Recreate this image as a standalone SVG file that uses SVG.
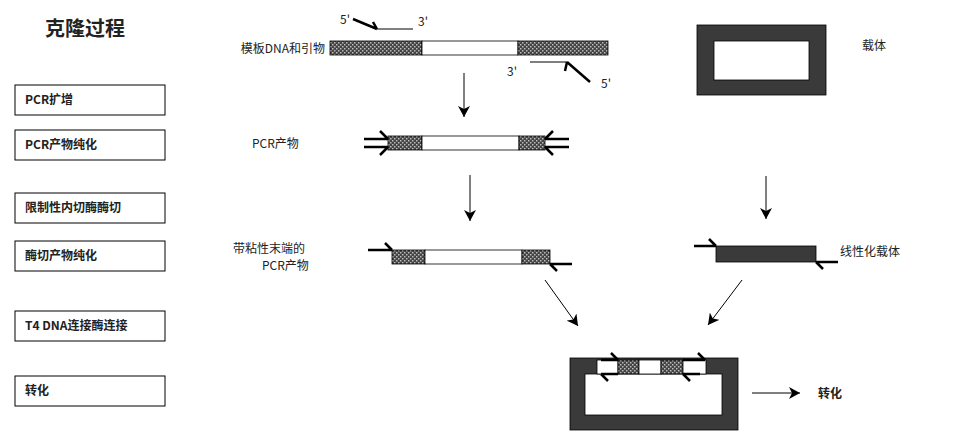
<svg xmlns="http://www.w3.org/2000/svg" width="954" height="447" viewBox="0 0 954 447">
<style>
text{font-family:"Noto Sans CJK SC","Liberation Sans",sans-serif;font-size:12px;fill:#222}
.b{font-weight:bold}
.box{fill:#fff;stroke:#000;stroke-width:1}
.h{fill:url(#hat);stroke:#000;stroke-width:0.8}
.w{fill:#fff;stroke:#000;stroke-width:0.8}
.d{fill:#3a3a3a;stroke:#000;stroke-width:0.8}
.t{stroke:#000;stroke-width:2.5;fill:none}
.n{stroke:#000;stroke-width:1;fill:none}
</style>
<defs>
<pattern id="hat" width="4" height="4" patternUnits="userSpaceOnUse">
<rect width="4" height="4" fill="#444"/><rect x="0" y="0" width="1.5" height="1.5" fill="#bbb"/><rect x="2" y="2" width="1.5" height="1.5" fill="#bbb"/>
</pattern>
<marker id="ar" viewBox="0 0 12 12" refX="11" refY="6" markerWidth="12" markerHeight="12" markerUnits="userSpaceOnUse" orient="auto"><path d="M0,0 L11,6 L0,12 L3,6 Z" fill="#000"/></marker>
</defs>
<text x="45" y="36" class="b" style="font-size:20px">克隆过程</text>
<g id="steps">
<rect class="box" x="15" y="85" width="150" height="30"/><text x="25" y="104" class="b">PCR扩增</text>
<rect class="box" x="15" y="130" width="150" height="30"/><text x="25" y="149" class="b">PCR产物纯化</text>
<rect class="box" x="15" y="193" width="150" height="30"/><text x="25" y="212" class="b">限制性内切酶酶切</text>
<rect class="box" x="15" y="241" width="150" height="30"/><text x="25" y="260" class="b">酶切产物纯化</text>
<rect class="box" x="15" y="311" width="150" height="30"/><text x="25" y="330" class="b">T4 DNA连接酶连接</text>
<rect class="box" x="15" y="376" width="150" height="30"/><text x="25" y="395" class="b">转化</text>
</g>
<g id="template">
<text x="325" y="53" text-anchor="end">模板DNA和引物</text>
<rect class="h" x="330" y="41" width="92" height="14"/><rect class="w" x="422" y="41" width="96" height="14"/><rect class="h" x="518" y="41" width="90" height="14"/>
<text x="340" y="24">5'</text><text x="418" y="26">3'</text>
<path class="t" d="M353,19 L377,29 M377,29 L373,22"/><path class="n" d="M377,29 H413"/>
<path class="n" d="M530,62 H567"/><path class="t" d="M567,62 L590,82 M567,62 L565,71"/>
<text x="507" y="76">3'</text><text x="601" y="88">5'</text>
</g>
<g id="pcr">
<text x="252" y="148">PCR产物</text>
<rect class="h" x="388" y="136" width="34" height="14"/><rect class="w" x="422" y="136" width="97" height="14"/><rect class="h" x="519" y="136" width="26" height="14"/>
<path class="t" d="M364,139 H388 M388,139 L380,131 M364,147 H388 M388,147 L380,155 M569,139 H545 M545,139 L553,131 M569,147 H545 M545,147 L553,155"/>
</g>
<g id="sticky">
<text x="233" y="253">带粘性末端的</text><text x="262" y="270">PCR产物</text>
<rect class="h" x="392" y="250" width="33" height="14"/><rect class="w" x="425" y="250" width="97" height="14"/><rect class="h" x="522" y="250" width="28" height="14"/>
<path class="t" d="M368,250 H392 M392,250 L385,243 M572,264 H550 M550,264 L557,271"/>
</g>
<g id="vector">
<rect class="d" x="697" y="25" width="129" height="70"/><rect class="w" x="714" y="41" width="95" height="39"/>
<text x="862" y="50">载体</text>
</g>
<g id="linvector">
<rect class="d" x="716" y="246" width="100" height="16"/>
<path class="t" d="M694,246 H716 M716,246 L709,239 M838,262 H816 M816,262 L823,269"/>
<text x="840" y="256">线性化载体</text>
</g>
<g id="recomb">
<rect class="d" x="570" y="358" width="168" height="72"/><rect class="w" x="585" y="374" width="137" height="41"/>
<rect class="w" x="597" y="360" width="21" height="14"/><rect class="h" x="618" y="360" width="21" height="14"/><rect class="w" x="639" y="360" width="22" height="14"/><rect class="h" x="661" y="360" width="22" height="14"/><rect class="w" x="683" y="360" width="23" height="14"/>
<path class="t" d="M601,360 H618 M618,360 L611,353 M618,374 H601 M601,374 L608,381 M683,360 H705 M705,360 L698,353 M700,374 H683 M683,374 L690,381"/>
<text x="818" y="398" class="b">转化</text>
</g>
<g id="connectors">
<path class="n" d="M464,73 V117" marker-end="url(#ar)"/>
<path class="n" d="M470,175 V221" marker-end="url(#ar)"/>
<path class="n" d="M766,176 V219" marker-end="url(#ar)"/>
<path class="n" d="M545,280 L578,326" marker-end="url(#ar)"/>
<path class="n" d="M742,280 L708,325" marker-end="url(#ar)"/>
<path class="n" d="M752,393 H800" marker-end="url(#ar)"/>
</g>
</svg>
